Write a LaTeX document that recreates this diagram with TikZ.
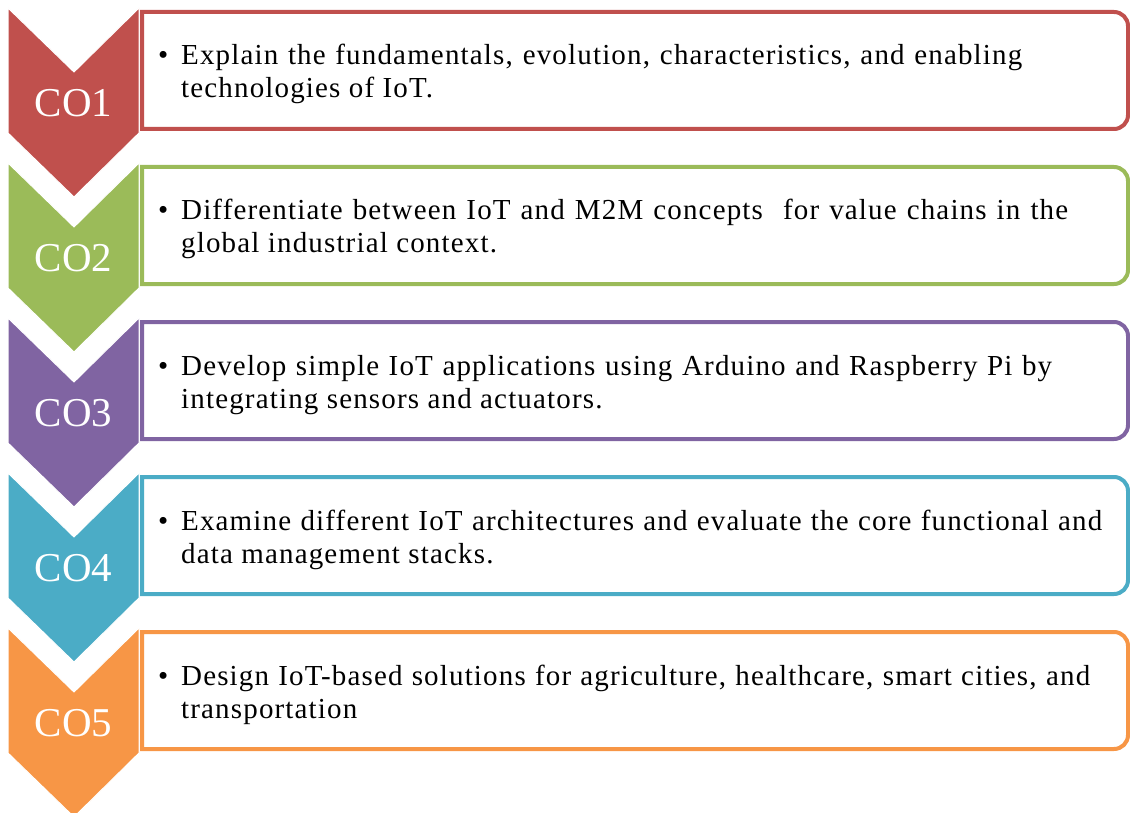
\documentclass[tikz,border=0pt]{standalone}
\usepackage{fontspec}
\setmainfont{Liberation Serif}
\newfontfamily\tnrfont{Liberation Serif}
\newfontfamily\tnrwide[LetterSpace=4]{Liberation Serif}
\definecolor{cred}{HTML}{C0504D}
\definecolor{cgreen}{HTML}{9BBB59}
\definecolor{cpurple}{HTML}{8064A2}
\definecolor{cblue}{HTML}{4BACC6}
\definecolor{corange}{HTML}{F79646}
\tikzset{
  chevshape/.style={fill=#1, draw=white, line width=1pt},
  cobox/.style={draw=#1, line width=4pt, fill=white},
  colabel/.style={text=white, inner sep=0pt, font=\tnrfont\fontsize{41}{41}\selectfont},
  itemtext/.style={anchor=base west, inner sep=0pt, font=\tnrwide\fontsize{29}{33}\selectfont},
}
\newcommand\corow[6]{%
  % #1 index, #2 colour, #3 top, #4 width of first line, #5 line one, #6 line two
  \path[cobox=#2] (142,#3+4) -- (1114,#3+4)
     arc[start angle=90, end angle=0, radius=14pt] -- (1128,#3+107)
     arc[start angle=0, end angle=-90, radius=14pt] -- (142,#3+121) -- cycle;
  \coordinate (box#1) at (635,#3+62);
  \path[chevshape=#2] (8,#3) -- (74,#3+64) -- (139,#3) -- (139,#3+125) -- (74,#3+189) -- (8,#3+125) -- cycle;
  \node[colabel] (lab#1) at (73.5,#3+95) {CO#1};
  \node[itemtext] (bul#1) at (158,#3+57) {•};
  \node[itemtext] (la#1) at (181,#3+57) {\makebox[#4pt][s]{#5}};
  \node[itemtext] (lb#1) at (181,#3+90) {#6};
}
\begin{document}
\begin{tikzpicture}[x=1pt,y=-1pt]
\useasboundingbox (0,0) rectangle (1130,813);
\begin{scope}
\clip (0,0) rectangle (1130,813);
\corow{1}{cred}{8}{841}{Explain the fundamentals, evolution, characteristics, and enabling}{technologies of IoT.}
\corow{2}{cgreen}{163}{887}{Differentiate between IoT and M2M concepts \ for value chains in the}{global industrial context.}
\corow{3}{cpurple}{318}{871}{Develop simple IoT applications using Arduino and Raspberry Pi by}{integrating sensors and actuators.}
\corow{4}{cblue}{473}{921}{Examine different IoT architectures and evaluate the core functional and}{data management stacks.}
\corow{5}{corange}{628}{909}{Design IoT-based solutions for agriculture, healthcare, smart cities, and}{transportation}
\end{scope}
\end{tikzpicture}
\end{document}
